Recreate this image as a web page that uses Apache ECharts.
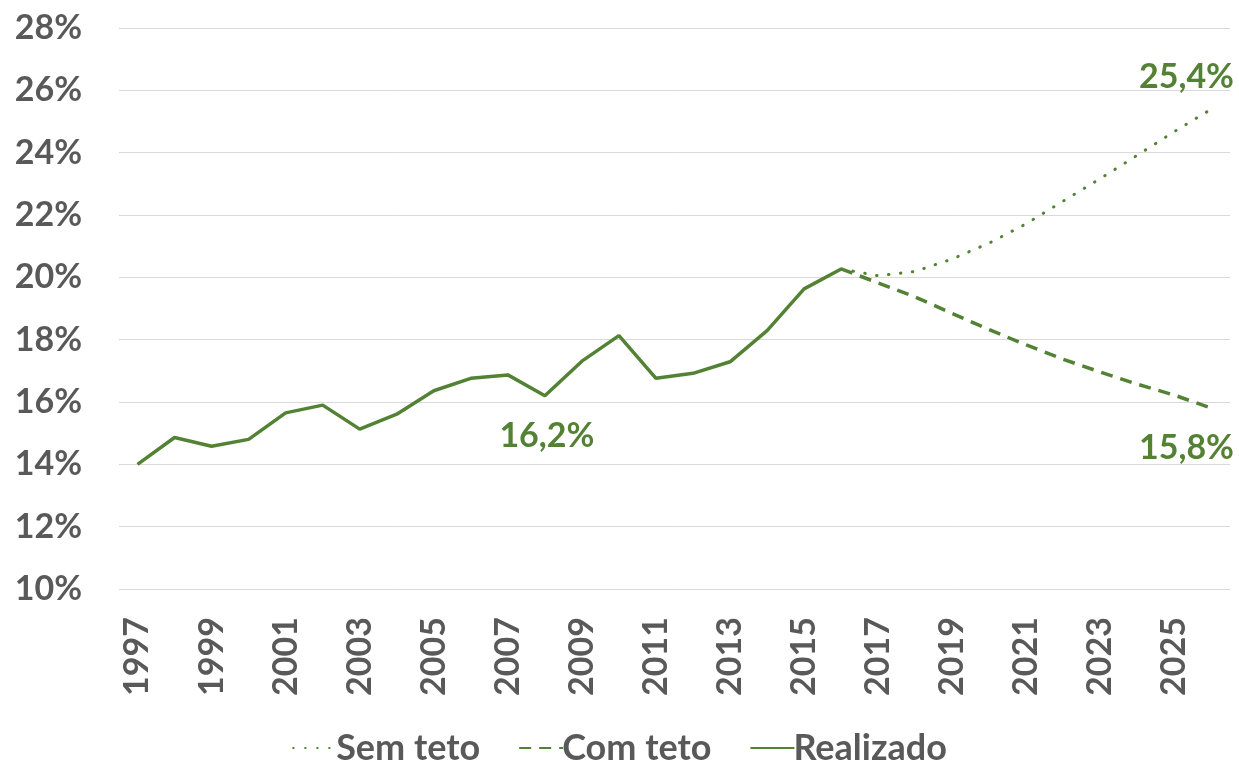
<!DOCTYPE html>
<html>
<head>
<meta charset="utf-8">
<script src="https://cdn.jsdelivr.net/npm/echarts@6/dist/echarts.min.js"></script>
<style>
html,body{margin:0;padding:0;background:#fff;}
#c{width:1239px;height:760px;}
</style>
</head>
<body>
<div id="c"></div>
<script>
const years = ['1997','1998','1999','2000','2001','2002','2003','2004','2005','2006','2007','2008','2009','2010','2011','2012','2013','2014','2015','2016','2017','2018','2019','2020','2021','2022','2023','2024','2025','2026'];
const realizado = [14.0,14.86,14.58,14.8,15.65,15.9,15.13,15.61,16.36,16.76,16.87,16.2,17.31,18.13,16.76,16.92,17.29,18.29,19.63,20.27];
const semTeto = [null,null,null,null,null,null,null,null,null,null,null,null,null,null,null,null,null,null,null,20.27,20.05,20.19,20.59,21.1,21.72,22.45,23.17,23.92,24.68,25.4];
const comTeto = [null,null,null,null,null,null,null,null,null,null,null,null,null,null,null,null,null,null,null,20.27,19.82,19.37,18.84,18.32,17.83,17.37,16.96,16.57,16.22,15.8];
const yTicks = [10,12,14,16,18,20,22,24,26,28];

const GREEN = '#548235';
const GRAY = '#595959';
const FONT = 'Lato';

function fmt(v){ return v.toFixed(1).replace('.', ',') + '%'; }

function withLabel(arr, idx, offset){
  return arr.map((v,i)=>{
    if(i!==idx || v===null) return v;
    return {value:v, label:{show:true, position:'inside', offset:offset, formatter:fmt(v),
      color:GREEN, fontFamily:FONT, fontWeight:'bold', fontSize:34}};
  });
}

const chart = echarts.init(document.getElementById('c'), null, {renderer:'canvas'});
chart.setOption({
  animation:false,
  backgroundColor:'#fff',
  grid:{left:119, right:9, top:28, bottom:171, containLabel:false},
  legend:{
    top:725, left:'center',
    itemWidth:44, itemHeight:12, itemGap:38,
    itemStyle:{opacity:0},
    textStyle:{color:GRAY, fontFamily:FONT, fontWeight:'bold', fontSize:36, padding:[0,0,0,-6]},
    data:['Sem teto','Com teto','Realizado']
  },
  xAxis:{
    type:'category', data:years, boundaryGap:true,
    axisLine:{show:false}, axisTick:{show:false},
    axisLabel:{interval:1, rotate:90, margin:28, color:GRAY, fontFamily:FONT, fontWeight:'bold', fontSize:34}
  },
  yAxis:{
    type:'value', min:yTicks[0], max:yTicks[yTicks.length-1], interval:2,
    axisLine:{show:false}, axisTick:{show:false},
    splitLine:{lineStyle:{color:'#d9d9d9', width:1}},
    axisLabel:{margin:37, color:GRAY, fontFamily:FONT, fontWeight:'bold', fontSize:34, formatter:v=>v+'%'}
  },
  series:[
    {name:'Sem teto', type:'line', data:withLabel(semTeto, 29, [-25,-32]), symbol:'circle', symbolSize:0, showSymbol:true,
     lineStyle:{color:GREEN, width:3, type:[0.5,11.5], cap:'round'}, itemStyle:{color:GREEN}, z:2},
    {name:'Com teto', type:'line', data:withLabel(comTeto, 29, [-25,40]), symbol:'circle', symbolSize:0, showSymbol:true,
     lineStyle:{color:GREEN, width:3.5, type:[12,8]}, itemStyle:{color:GREEN}, z:2},
    {name:'Realizado', type:'line', data:withLabel(realizado, 11, [2,40]), symbol:'circle', symbolSize:0, showSymbol:true,
     lineStyle:{color:GREEN, width:3.5}, itemStyle:{color:GREEN}, z:3}
  ]
});
</script>
</body>
</html>
